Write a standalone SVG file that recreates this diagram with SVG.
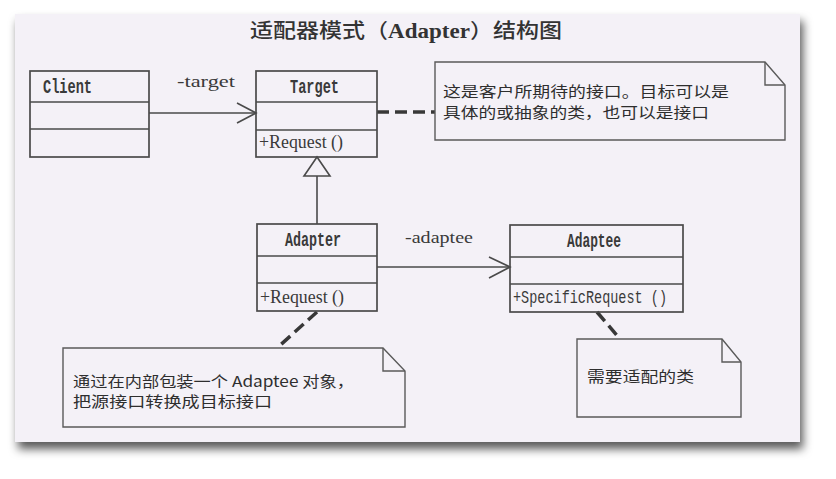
<svg xmlns="http://www.w3.org/2000/svg" width="836" height="479" viewBox="0 0 836 479">
<defs>
<filter id="shadow" x="-5%" y="-5%" width="112%" height="115%">
<feDropShadow dx="3" dy="7" stdDeviation="5" flood-color="#000" flood-opacity="0.65"/>
</filter>
<style>
.box{fill:none;stroke:#4a4a4a;stroke-width:1.7}
.div{stroke:#4a4a4a;stroke-width:1.6}
.note{fill:none;stroke:#5a5a5a;stroke-width:1.4}
.conn{fill:none;stroke:#4a4a4a;stroke-width:1.6}
.dash{fill:none;stroke:#383838;stroke-width:3.5;stroke-dasharray:12 6}
.cls{font-family:"Liberation Mono",monospace;font-weight:bold;font-size:20px;fill:#3a3a3a}
.op{font-family:"Liberation Serif",serif;font-size:18px;fill:#3a3a3a}
.mono{font-family:"Liberation Mono",monospace;font-size:18px;fill:#3a3a3a}
.role{font-family:"Liberation Serif",serif;font-size:17px;fill:#3a3a3a}
.cjk{font-family:"Noto Sans CJK SC","Noto Sans",sans-serif;font-size:15px;fill:#2e2e2e}
.title{font-family:"Noto Sans CJK SC",sans-serif;font-size:20px;font-weight:500;fill:#333}
</style>
</defs>
<rect width="836" height="479" fill="#ffffff"/>
<rect x="15" y="14" width="785" height="428" fill="#f4f1f7" filter="url(#shadow)"/>

<text class="title" x="250" y="38" textLength="312" lengthAdjust="spacingAndGlyphs">适配器模式（<tspan font-family="Liberation Serif" font-weight="bold">Adapter</tspan>）结构图</text>

<g id="connectors">
<line class="conn" x1="149" y1="113" x2="255" y2="113"/>
<polyline class="conn" points="237,103 256,113 237,123"/>
<line class="conn" x1="377" y1="267" x2="509" y2="267"/>
<polyline class="conn" points="489,257 510,267 489,278"/>
<line class="conn" x1="317" y1="176" x2="317" y2="224"/>
<polygon class="conn" points="317,157 304,176 330,176" fill="#f4f1f7"/>
<line class="dash" x1="377" y1="112" x2="435" y2="112"/>
<line class="dash" x1="317" y1="312" x2="277" y2="348"/>
<line class="dash" x1="597" y1="312" x2="620" y2="339"/>
<text class="role" x="177" y="87" textLength="58" lengthAdjust="spacingAndGlyphs">-target</text>
<text class="role" x="405" y="243" textLength="68" lengthAdjust="spacingAndGlyphs">-adaptee</text>
</g>

<g id="client">
<rect class="box" x="30" y="71" width="119" height="86"/>
<line class="div" x1="30" y1="102" x2="149" y2="102"/>
<line class="div" x1="30" y1="129" x2="149" y2="129"/>
<text class="cls" x="43" y="93" textLength="49" lengthAdjust="spacingAndGlyphs">Client</text>
</g>

<g id="target">
<rect class="box" x="256" y="71" width="121" height="86"/>
<line class="div" x1="256" y1="102" x2="377" y2="102"/>
<line class="div" x1="256" y1="130" x2="377" y2="130"/>
<text class="cls" x="290" y="93" textLength="49" lengthAdjust="spacingAndGlyphs">Target</text>
<text class="op" x="259" y="148" textLength="84" lengthAdjust="spacingAndGlyphs">+Request ()</text>
</g>

<g id="adapter">
<rect class="box" x="257" y="224" width="120" height="87"/>
<line class="div" x1="257" y1="256" x2="377" y2="256"/>
<line class="div" x1="257" y1="283" x2="377" y2="283"/>
<text class="cls" x="285" y="246" textLength="56" lengthAdjust="spacingAndGlyphs">Adapter</text>
<text class="op" x="260" y="303" textLength="84" lengthAdjust="spacingAndGlyphs">+Request ()</text>
</g>

<g id="adaptee">
<rect class="box" x="510" y="225" width="173" height="87"/>
<line class="div" x1="510" y1="257" x2="683" y2="257"/>
<line class="div" x1="510" y1="284" x2="683" y2="284"/>
<text class="cls" x="567" y="247" textLength="54" lengthAdjust="spacingAndGlyphs">Adaptee</text>
<text class="mono" x="513" y="303" textLength="154" lengthAdjust="spacingAndGlyphs">+SpecificRequest ()</text>
</g>

<g id="note-target">
<path class="note" d="M435,62 H765 L785,85 V140 H435 Z"/>
<path class="note" d="M765,62 V85 H785"/>
<text class="cjk" x="443" y="97" textLength="286" lengthAdjust="spacingAndGlyphs">这是客户所期待的接口。目标可以是</text>
<text class="cjk" x="443" y="118" textLength="266" lengthAdjust="spacingAndGlyphs">具体的或抽象的类，也可以是接口</text>
</g>

<g id="note-adapter">
<path class="note" d="M63,348 H383 L405,371 V427 H63 Z"/>
<path class="note" d="M383,348 V371 H405"/>
<text class="cjk" x="73" y="387" textLength="281" lengthAdjust="spacingAndGlyphs">通过在内部包装一个 Adaptee 对象，</text>
<text class="cjk" x="73" y="407" textLength="199" lengthAdjust="spacingAndGlyphs">把源接口转换成目标接口</text>
</g>

<g id="note-adaptee">
<path class="note" d="M577,339 H722 L741,362 V417 H577 Z"/>
<path class="note" d="M722,339 V362 H741"/>
<text class="cjk" x="587" y="382" textLength="107" lengthAdjust="spacingAndGlyphs">需要适配的类</text>
</g>
</svg>
